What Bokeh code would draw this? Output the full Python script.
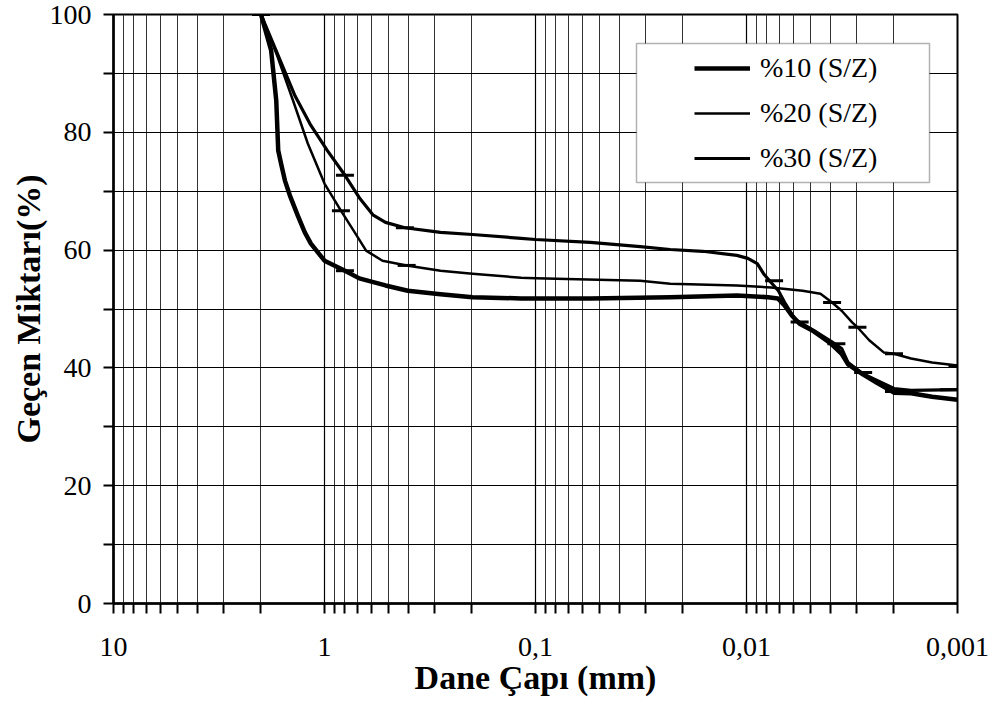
from bokeh.plotting import figure
from bokeh.models import (Range1d, FixedTicker, CustomJSTickFormatter, Legend,
                          LegendItem, BoxAnnotation)
from bokeh.embed import file_html
from bokeh.resources import INLINE

# ---- data (grain diameter mm, percent passing) ----
d10 = [2.0, 1.79, 1.693, 1.657, 1.60, 1.54, 1.46, 1.34, 1.24, 1.16, 1.0, 0.80,
       0.684, 0.514, 0.403, 0.282, 0.199, 0.117, 0.055, 0.023, 0.0111, 0.0079,
       0.0071, 0.0066, 0.0061, 0.0056, 0.0048, 0.00397, 0.00354, 0.0033,
       0.00281, 0.00242, 0.0020, 0.00166, 0.00132, 0.001]
p10 = [100, 93.9, 85.4, 76.9, 74.4, 71.8, 69.3, 65.9, 63.0, 61.1, 58.2, 56.5,
       55.2, 54.0, 53.1, 52.5, 52.0, 51.8, 51.8, 52.0, 52.3, 52.0,
       51.8, 50.6, 48.9, 47.5, 46.2, 44.1, 42.4, 40.6,
       38.9, 37.5, 35.8, 35.7, 35.1, 34.6]
m10_d = [2.0, 0.80, 0.0056, 0.00375, 0.0028, 0.0020]
m10_p = [100, 56.5, 47.8, 44.1, 39.2, 36.0]

d20 = [2.0, 1.675, 1.41, 1.20, 1.0, 0.836, 0.728, 0.635, 0.531, 0.408,
       0.282, 0.199, 0.117, 0.1, 0.0319, 0.023, 0.0111, 0.00765, 0.00542,
       0.00446, 0.00393, 0.00354, 0.00315, 0.00298, 0.00262, 0.00223, 0.0020,
       0.00166, 0.00132, 0.001]
p20 = [100, 93.0, 85.4, 78.1, 71.3, 66.7, 63.3, 59.9, 58.2, 57.4,
       56.5, 56.0, 55.3, 55.2, 54.8, 54.3, 54.0, 53.65, 53.1,
       52.6, 51.1, 49.7, 47.7, 46.9, 44.7, 42.6, 42.4,
       41.6, 40.9, 40.4]
m20_d = [2.0, 0.836, 0.408, 0.00393, 0.00298, 0.0020, 0.001]
m20_p = [100, 66.7, 57.4, 51.1, 46.9, 42.4, 40.4]

d30 = [2.0, 1.657, 1.38, 1.162, 0.969, 0.80, 0.684, 0.59, 0.514, 0.416, 0.282,
       0.199, 0.117, 0.1, 0.055, 0.0319, 0.023, 0.0161, 0.0111, 0.00985,
       0.00889, 0.0083, 0.00765, 0.00706, 0.00659, 0.00587, 0.00483, 0.00397,
       0.00354, 0.0033, 0.00281, 0.0020, 0.00166, 0.001]
p30 = [100, 93.0, 86.2, 81.2, 76.9, 72.7, 68.9, 66.0, 64.7, 63.8, 63.0,
       62.65, 62.0, 61.8, 61.3, 60.6, 60.1, 59.8, 59.1, 58.6,
       57.7, 56.0, 54.5, 53.1, 51.1, 48.2, 46.4, 44.5,
       43.3, 40.9, 39.0, 36.5, 36.2, 36.3]
m30_d = [2.0, 0.80, 0.416, 0.0074, 0.0011]
m30_p = [100, 72.7, 63.8, 54.8, 36.3]

labels = ["%10 (S/Z)", "%20 (S/Z)", "%30 (S/Z)"]
x_major = [10, 1, 0.1, 0.01, 0.001]
y_major = [0, 20, 40, 60, 80, 100]
y_minor = [10, 30, 50, 70, 90]

FONT = "Liberation Serif"

p = figure(width=1001, height=717, x_axis_type="log",
           x_range=Range1d(10, 0.001), y_range=Range1d(0, 100),
           output_backend="svg", toolbar_location=None,
           min_border_left=113, min_border_right=44,
           min_border_top=14, min_border_bottom=114,
           background_fill_color="white", border_fill_color="white")

x_minor = [k * 10.0 ** e for e in range(-3, 1) for k in range(2, 10)]
p.xaxis.ticker = FixedTicker(ticks=x_major, minor_ticks=x_minor)
p.xaxis.formatter = CustomJSTickFormatter(code="return tick.toString().replace('.', ',');")
p.yaxis.ticker = FixedTicker(ticks=y_major, minor_ticks=y_minor)

for ax in (p.xaxis[0], p.yaxis[0]):
    ax.axis_line_color = "black"
    ax.axis_line_width = 2.5
    ax.major_tick_line_color = "black"
    ax.minor_tick_line_color = "black"
    ax.major_tick_line_width = 2
    ax.minor_tick_line_width = 2
    ax.major_tick_out = 10
    ax.major_tick_in = 0
    ax.minor_tick_out = 10
    ax.minor_tick_in = 0
    ax.major_label_text_font = FONT
    ax.major_label_text_font_size = "28px"
    ax.major_label_text_color = "black"
    ax.axis_label_text_font = FONT
    ax.axis_label_text_font_size = "34px"
    ax.axis_label_text_font_style = "bold"
    ax.axis_label_text_color = "black"

p.xaxis.axis_label = "Dane Çapı (mm)"
p.yaxis.axis_label = "Geçen Miktarı(%)"
p.xaxis.major_label_standoff = 24
p.xaxis.axis_label_standoff = 0
p.yaxis.major_label_standoff = 12
p.yaxis.axis_label_standoff = 0

p.xgrid.grid_line_color = "black"
p.xgrid.grid_line_width = 1.2
p.xgrid.minor_grid_line_color = "#333333"
p.xgrid.minor_grid_line_width = 1
p.ygrid.grid_line_color = "black"
p.ygrid.grid_line_width = 1.2
p.ygrid.minor_grid_line_color = "black"
p.ygrid.minor_grid_line_width = 1.2

p.outline_line_color = "black"
p.outline_line_width = 2

r10 = p.line(d10, p10, line_color="black", line_width=4.5, line_join="round")
r20 = p.line(d20, p20, line_color="black", line_width=2.5, line_join="round")
r30 = p.line(d30, p30, line_color="black", line_width=3.2, line_join="round")
p.scatter(m10_d, m10_p, marker="dash", size=18, line_color="black", line_width=3)
p.scatter(m20_d, m20_p, marker="dash", size=18, line_color="black", line_width=3)
p.scatter(m30_d, m30_p, marker="dash", size=18, line_color="black", line_width=3)

box = BoxAnnotation(left=636, right=929, top=43, bottom=182,
                    left_units="canvas", right_units="canvas",
                    top_units="canvas", bottom_units="canvas",
                    fill_color="white", fill_alpha=1.0,
                    line_color="black", line_width=1.5)
p.add_layout(box)

legend = Legend(items=[LegendItem(label=labels[0], renderers=[r10]),
                       LegendItem(label=labels[1], renderers=[r20]),
                       LegendItem(label=labels[2], renderers=[r30])],
                location=(571, 417), orientation="vertical",
                label_text_font=FONT, label_text_font_size="28px",
                label_text_color="black", label_standoff=10,
                glyph_width=56, glyph_height=20, label_height=36,
                spacing=9, padding=10, margin=0,
                background_fill_alpha=0.0, border_line_alpha=0.0)
p.add_layout(legend)

open("out.html", "w").write(file_html(p, INLINE))
